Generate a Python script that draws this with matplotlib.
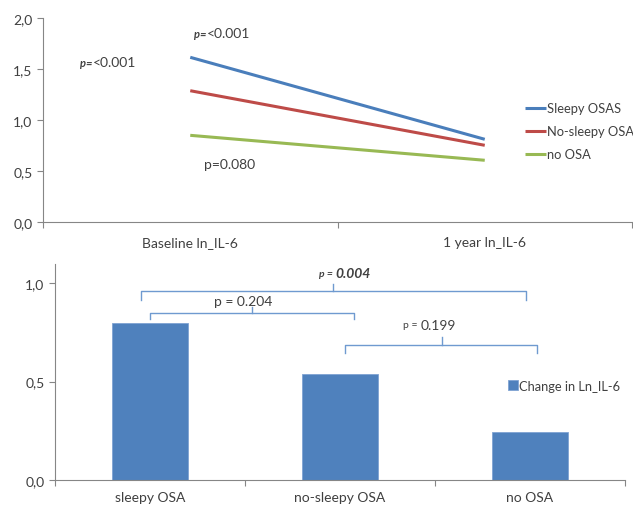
import matplotlib
matplotlib.use("Agg")
import matplotlib.pyplot as plt
from matplotlib.ticker import FuncFormatter, FixedLocator

plt.rcParams['font.family'] = ['Lato', 'DejaVu Sans']

# ---- data ----
time_labels = ["Baseline ln_IL-6", "1 year ln_IL-6"]
series_names = ["Sleepy OSAS", "No-sleepy OSA", "no OSA"]
sleepy = [1.617, 0.812]
nosleepy = [1.289, 0.753]
noosa = [0.851, 0.606]
line_colors = ["#4A7EBB", "#BE4B48", "#98B954"]

groups = ["sleepy OSA", "no-sleepy OSA", "no OSA"]
change = [0.80, 0.537, 0.244]
bar_label = "Change in Ln_IL-6"

comma = FuncFormatter(lambda v, p: f"{v:.1f}".replace(".", ","))
gray = "#868686"
txt = "#404040"
fs = 10

fig = plt.figure(figsize=(6.33, 5.06), dpi=100)

# ---------------- top chart ----------------
ax1 = fig.add_axes([43/633, 1-223/506, (632-43)/633, (223-19.3)/506])
x = list(range(len(time_labels)))
for vals, name, c in zip([sleepy, nosleepy, noosa], series_names, line_colors):
    ax1.plot(x, vals, color=c, lw=2.2, label=name, solid_capstyle='butt')
ax1.set_xlim(-0.5, 1.5)
ax1.set_ylim(0, 2.0)
ax1.set_yticks([0, 0.5, 1.0, 1.5, 2.0])
ax1.yaxis.set_major_formatter(comma)
ax1.set_xticks([-0.5, 0.5, 1.5])
ax1.set_xticklabels([])
ax1.xaxis.set_minor_locator(FixedLocator(x))
ax1.set_xticklabels(time_labels, minor=True)
ax1.tick_params(axis='x', which='minor', length=0, pad=10, labelsize=fs, labelcolor=txt)
ax1.tick_params(axis='both', which='major', direction='out', length=4, color=gray,
                labelsize=fs, labelcolor=txt)
for s in ['top', 'right']:
    ax1.spines[s].set_visible(False)
for s in ['left', 'bottom']:
    ax1.spines[s].set_color(gray)
leg = ax1.legend(loc='upper left', bbox_to_anchor=((525-43)/589, 0.588), frameon=False,
                 fontsize=9.3, handlelength=1.6, handletextpad=0.1,
                 labelspacing=0.85, borderaxespad=0, borderpad=0)
for t in leg.get_texts():
    t.set_color(txt)

def ptext(ax, xf, yf, rest):
    ax.text(xf, yf, "p=", transform=ax.transAxes, fontsize=8, fontweight='bold',
            style='italic', ha='right', va='center', color=txt)
    ax.text(xf, yf, rest, transform=ax.transAxes, fontsize=fs, ha='left',
            va='center', color=txt)

ptext(ax1, (93-43)/589, (223-63)/203.7, "<0.001")
ptext(ax1, (207-43)/589, (223-34)/203.7, "<0.001")
ax1.text((204-43)/589, (223-165)/203.7, "p=0.080", transform=ax1.transAxes,
         fontsize=fs, ha='left', va='center', color=txt)

# ---------------- bottom chart ----------------
ax2 = fig.add_axes([55/633, 1-481/506, (625-55)/633, (481-265)/506])
xb = list(range(len(groups)))
ax2.bar(xb, change, width=0.4, color="#4F81BD", edgecolor="#7FA3D3", lw=0.6,
        label=bar_label)
ax2.set_xlim(-0.5, 2.5)
ax2.set_ylim(0, 1.098)
ax2.set_yticks([0, 0.5, 1.0])
ax2.yaxis.set_major_formatter(comma)
ax2.set_xticks([-0.5, 0.5, 1.5, 2.5])
ax2.set_xticklabels([])
ax2.xaxis.set_minor_locator(FixedLocator(xb))
ax2.set_xticklabels(groups, minor=True)
ax2.tick_params(axis='x', which='minor', length=0, pad=8, labelsize=fs, labelcolor=txt)
ax2.tick_params(axis='both', which='major', direction='out', length=4, color=gray,
                labelsize=fs, labelcolor=txt)
for s in ['top', 'right']:
    ax2.spines[s].set_visible(False)
for s in ['left', 'bottom']:
    ax2.spines[s].set_color(gray)
leg2 = ax2.legend(loc='center left', bbox_to_anchor=((508-55)/570, 0.437), frameon=False,
                  fontsize=9.3, handlelength=0.75, handleheight=0.75,
                  handletextpad=0.1, borderaxespad=0, borderpad=0)
for t in leg2.get_texts():
    t.set_color(txt)

bcol = "#6F9AD0"

def bracket(ax, x0, x1, xc, y, yend, ytop):
    ax.plot([x0, x0, x1, x1], [yend, y, y, yend], color=bcol, lw=1.0,
            solid_joinstyle='round')
    ax.plot([xc, xc], [y, ytop], color=bcol, lw=1.0)

bracket(ax2, -0.047, 1.977, 0.963, 0.962, 0.917, 0.995)
bracket(ax2, 0.0, 1.074, 0.537, 0.849, 0.818, 0.880)
bracket(ax2, 1.026, 2.037, 1.535, 0.686, 0.646, 0.729)

ax2.text(0.975, 1.052, "p = ", fontsize=7.5, style='italic', fontweight='bold',
         ha='right', va='center', color=txt)
ax2.text(0.975, 1.052, "0.004", fontsize=fs, style='italic', fontweight='bold',
         ha='left', va='center', color=txt)
ax2.text(0.49, 0.91, "p = 0.204", fontsize=fs, ha='center', va='center', color=txt)
ax2.text(1.42, 0.788, "p = ", fontsize=7.5, ha='right', va='center', color=txt)
ax2.text(1.422, 0.788, "0.199", fontsize=fs, ha='left', va='center', color=txt)

fig.savefig("out.png", dpi=100)
